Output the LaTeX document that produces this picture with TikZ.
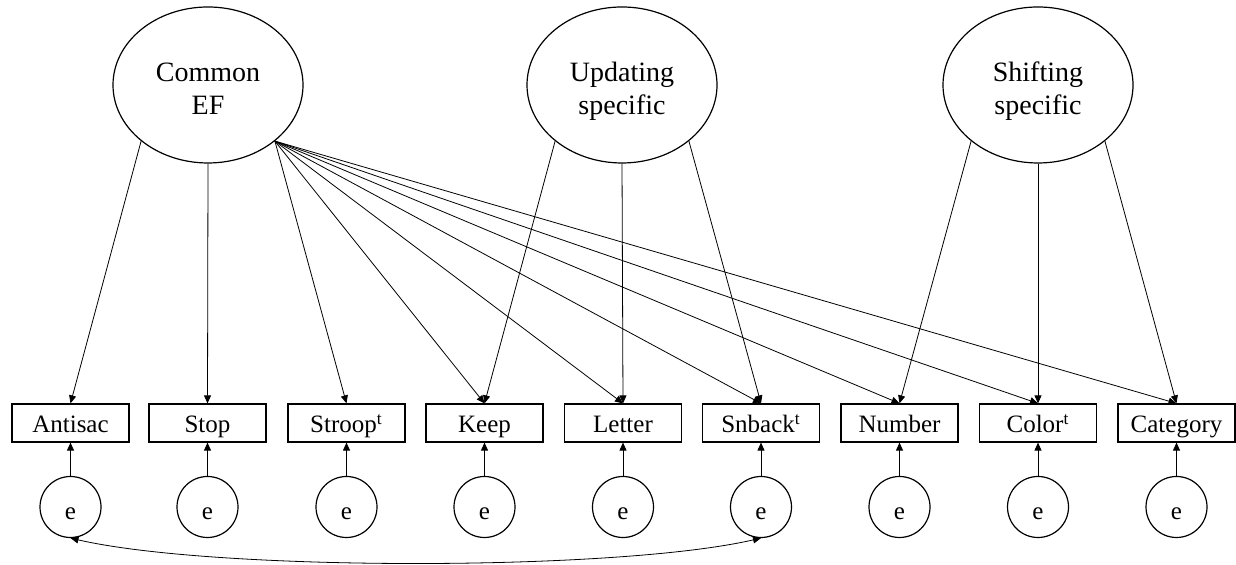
\documentclass[tikz,border=0pt]{standalone}
\usepackage{fontspec}
\setmainfont{Liberation Serif}
\usetikzlibrary{shapes.geometric,arrows.meta}
\newcommand{\toprule}{\rule{0pt}{16pt}}
\newcommand{\botrule}{\rule[-3pt]{0pt}{3pt}}
\begin{document}
\begin{tikzpicture}[x=0.5pt,y=0.5pt,
 latent/.style={ellipse,draw,line width=0.6pt,minimum width=95pt,minimum height=78pt,inner sep=0pt,align=center,font=\fontsize{14}{16.5}\selectfont},
 obs/.style={rectangle,draw,line width=0.6pt,minimum width=58.5pt,minimum height=19pt,inner sep=0pt,text height=10pt,text depth=0pt,font=\fontsize{12.5}{15}\selectfont},
 err/.style={circle,draw,line width=0.6pt,minimum size=30.5pt,inner sep=0pt,text height=13pt,text depth=0pt,font=\fontsize{12.5}{15}\selectfont},
 load/.style={line width=0.4pt,-{Triangle[length=4pt,width=3.5pt]}},
 cov/.style={line width=0.4pt,{Triangle[length=4pt,width=3.5pt]}-{Triangle[length=4pt,width=3.5pt]}},
]
\useasboundingbox (0,0) rectangle (1236,565);

% latent factors
\node[latent] (cef) at (208,480) {\toprule Common\\EF\botrule};
\node[latent] (upd) at (622,480) {\toprule Updating\\specific\botrule};
\node[latent] (shf) at (1038,480) {\toprule Shifting\\specific\botrule};

% observed tasks
\node[obs] (antisac) at (70.5,142) {Antisac};
\node[obs] (stop)    at (207.5,142) {Stop};
\node[obs] (stroop)  at (346.5,142) {Stroop\textsuperscript{t}};
\node[obs] (keep)    at (484.5,142) {Keep};
\node[obs] (letter)  at (623,142) {Letter};
\node[obs] (snback)  at (761,142) {Snback\textsuperscript{t}};
\node[obs] (number)  at (899.5,142) {Number};
\node[obs] (color)   at (1038,142) {Color\textsuperscript{t}};
\node[obs] (category) at (1176.5,142) {Category};

% errors
\node[err] (e1) at (70.5,58) {e};
\node[err] (e2) at (207.5,58) {e};
\node[err] (e3) at (346.5,58) {e};
\node[err] (e4) at (484.5,58) {e};
\node[err] (e5) at (623,58) {e};
\node[err] (e6) at (761,58) {e};
\node[err] (e7) at (899.5,58) {e};
\node[err] (e8) at (1038,58) {e};
\node[err] (e9) at (1176.5,58) {e};

% common EF loadings
\draw[load] (cef.220) -- (antisac.north);
\draw[load] (cef.south) -- (stop.north);
\foreach \t in {stroop,keep,letter,snback,number,color,category}
  \draw[load] (cef.320) -- (\t.north);

% updating-specific loadings
\draw[load] (upd.220) -- (keep.north);
\draw[load] (upd.south) -- (letter.north);
\draw[load] (upd.320) -- (snback.north);

% shifting-specific loadings
\draw[load] (shf.220) -- (number.north);
\draw[load] (shf.south) -- (color.north);
\draw[load] (shf.320) -- (category.north);

% error paths
\draw[load] (e1) -- (antisac);
\draw[load] (e2) -- (stop);
\draw[load] (e3) -- (stroop);
\draw[load] (e4) -- (keep);
\draw[load] (e5) -- (letter);
\draw[load] (e6) -- (snback);
\draw[load] (e7) -- (number);
\draw[load] (e8) -- (color);
\draw[load] (e9) -- (category);

% residual covariance
\draw[cov] (e1.south) to[out=-13,in=-167,looseness=0.55] (e6.south);
\end{tikzpicture}
\end{document}
